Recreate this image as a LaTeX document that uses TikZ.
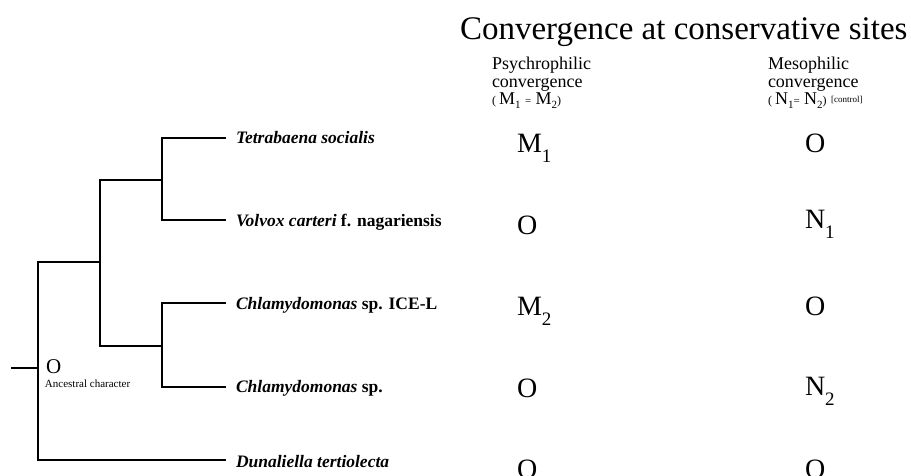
\documentclass[tikz,border=0pt]{standalone}
\usepackage{fontspec}
\setmainfont{Liberation Serif}
\newcommand{\fs}[1]{\fontsize{#1}{#1}\selectfont}
\newcommand{\bigsub}[1]{\raisebox{-10pt}{\fs{19}#1}}
\newcommand{\hsub}[1]{\raisebox{-4pt}{\fs{11}#1}}
\begin{document}
\begin{tikzpicture}[x=1pt,y=-1pt,
  branch/.style={line width=1.8pt,line cap=rect},
  txt/.style={anchor=base west,inner sep=0pt,outer sep=0pt},
  title/.style={txt,font=\fs{33}},
  head/.style={txt,font=\fs{18},align=left},
  taxon/.style={txt,font=\fs{17.5}\bfseries},
  state/.style={txt,font=\fs{28}}]
\useasboundingbox (0,0) rectangle (911,476);
\clip (0,0) rectangle (911,476);
% tree coordinates
\coordinate (stub) at (12,368);
\coordinate (rt) at (38,368);
\coordinate (rtop) at (38,262);
\coordinate (rbot) at (38,460);
\coordinate (a) at (100,262);
\coordinate (atop) at (100,180);
\coordinate (abot) at (100,346);
\coordinate (b) at (162,180);
\coordinate (btop) at (162,138);
\coordinate (bbot) at (162,220);
\coordinate (c) at (162,346);
\coordinate (ctop) at (162,303);
\coordinate (cbot) at (162,387);
\coordinate (t1) at (225,138);
\coordinate (t2) at (225,220);
\coordinate (t3) at (225,303);
\coordinate (t4) at (225,387);
\coordinate (t5) at (225,460);
\draw[branch] (stub) -- (rt);
\draw[branch] (rtop) -- (rbot);
\draw[branch] (rtop) -- (a);
\draw[branch] (atop) -- (abot);
\draw[branch] (atop) -- (b);
\draw[branch] (abot) -- (c);
\draw[branch] (btop) -- (bbot);
\draw[branch] (ctop) -- (cbot);
\draw[branch] (btop) -- (t1);
\draw[branch] (bbot) -- (t2);
\draw[branch] (ctop) -- (t3);
\draw[branch] (cbot) -- (t4);
\draw[branch] (rbot) -- (t5);
% ancestral
\node[txt,font=\fs{21}] (anc) at (46,373) {O};
\node[txt,font=\fs{11}] (anclab) at (45,387) {Ancestral character};
% taxa
\node[taxon] (n1) at (236,144) {\itshape Tetrabaena socialis};
\node[taxon] (n2) at (236,226) {\textit{Volvox carteri} f. nagariensis};
\node[taxon] (n3) at (236,309) {\textit{Chlamydomonas} sp. ICE-L};
\node[taxon] (n4) at (236,392) {\textit{Chlamydomonas} sp.};
\node[taxon] (n5) at (236,467) {\itshape Dunaliella tertiolecta};
% headers
\node[title] (ttl) at (460,40) {Convergence at conservative sites};
\node[head] (h1a) at (492,70) {Psychrophilic};
\node[head] (h1b) at (492,88) {convergence};
\node[head] (h1c) at (492,105) {{\fs{12}(}\,M\hsub{1} {\fs{11}=} M\hsub{2}{\fs{12})}};
\node[head] (h2a) at (768,70) {Mesophilic};
\node[head] (h2b) at (768,88) {convergence};
\node[head] (h2c) at (768,105) {{\fs{12}(}\,N\hsub{1}{\fs{11}=} N\hsub{2}{\fs{12})} \raisebox{2pt}{\fs{9}[control]}};
% states column 1
\node[state] (p1) at (517,153) {M\bigsub{1}};
\node[state] (p2) at (517,234) {O};
\node[state] (p3) at (517,315) {M\bigsub{2}};
\node[state] (p4) at (517,397) {O};
\node[state] (p5) at (517,478) {O};
% states column 2
\node[state] (q1) at (805,153) {O};
\node[state] (q2) at (805,229) {N\bigsub{1}};
\node[state] (q3) at (805,315) {O};
\node[state] (q4) at (805,395) {N\bigsub{2}};
\node[state] (q5) at (805,478) {O};
\end{tikzpicture}
\end{document}
